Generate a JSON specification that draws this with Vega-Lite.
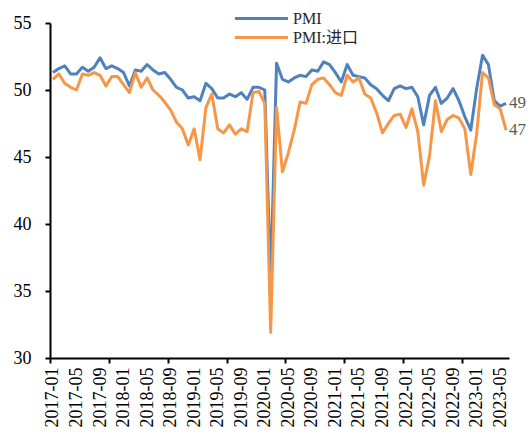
{
  "$schema": "https://vega.github.io/schema/vega-lite/v6.json",
  "width": 459,
  "height": 335,
  "autosize": {"type": "none"},
  "padding": {"left": 50, "top": 23, "right": 20, "bottom": 76},
  "background": "white",
  "config": {
    "view": {"stroke": null},
    "font": "Liberation Serif",
    "axis": {"labelFont": "Liberation Serif", "grid": false}
  },
  "data": {
    "values": [
      {"d":"2017-01","PMI":51.3,"imp":50.8},{"d":"2017-02","PMI":51.6,"imp":51.2},{"d":"2017-03","PMI":51.8,"imp":50.5},{"d":"2017-04","PMI":51.2,"imp":50.2},{"d":"2017-05","PMI":51.2,"imp":50.0},{"d":"2017-06","PMI":51.7,"imp":51.2},{"d":"2017-07","PMI":51.4,"imp":51.1},{"d":"2017-08","PMI":51.7,"imp":51.3},{"d":"2017-09","PMI":52.4,"imp":51.1},{"d":"2017-10","PMI":51.6,"imp":50.3},{"d":"2017-11","PMI":51.8,"imp":51.0},{"d":"2017-12","PMI":51.6,"imp":51.0},
      {"d":"2018-01","PMI":51.3,"imp":50.4},{"d":"2018-02","PMI":50.3,"imp":49.8},{"d":"2018-03","PMI":51.5,"imp":51.3},{"d":"2018-04","PMI":51.4,"imp":50.2},{"d":"2018-05","PMI":51.9,"imp":50.9},{"d":"2018-06","PMI":51.5,"imp":50.0},{"d":"2018-07","PMI":51.2,"imp":49.6},{"d":"2018-08","PMI":51.3,"imp":49.1},{"d":"2018-09","PMI":50.8,"imp":48.5},{"d":"2018-10","PMI":50.2,"imp":47.6},{"d":"2018-11","PMI":50.0,"imp":47.1},{"d":"2018-12","PMI":49.4,"imp":45.9},
      {"d":"2019-01","PMI":49.5,"imp":47.1},{"d":"2019-02","PMI":49.2,"imp":44.8},{"d":"2019-03","PMI":50.5,"imp":48.7},{"d":"2019-04","PMI":50.1,"imp":49.7},{"d":"2019-05","PMI":49.4,"imp":47.1},{"d":"2019-06","PMI":49.4,"imp":46.8},{"d":"2019-07","PMI":49.7,"imp":47.4},{"d":"2019-08","PMI":49.5,"imp":46.7},{"d":"2019-09","PMI":49.8,"imp":47.1},{"d":"2019-10","PMI":49.3,"imp":46.9},{"d":"2019-11","PMI":50.2,"imp":49.8},{"d":"2019-12","PMI":50.2,"imp":49.9},
      {"d":"2020-01","PMI":50.0,"imp":49.0},{"d":"2020-02","PMI":35.7,"imp":31.9},{"d":"2020-03","PMI":52.0,"imp":48.7},{"d":"2020-04","PMI":50.8,"imp":43.9},{"d":"2020-05","PMI":50.6,"imp":45.3},{"d":"2020-06","PMI":50.9,"imp":47.0},{"d":"2020-07","PMI":51.1,"imp":49.1},{"d":"2020-08","PMI":51.0,"imp":49.0},{"d":"2020-09","PMI":51.5,"imp":50.4},{"d":"2020-10","PMI":51.4,"imp":50.8},{"d":"2020-11","PMI":52.1,"imp":50.9},{"d":"2020-12","PMI":51.9,"imp":50.4},
      {"d":"2021-01","PMI":51.3,"imp":49.8},{"d":"2021-02","PMI":50.6,"imp":49.6},{"d":"2021-03","PMI":51.9,"imp":51.1},{"d":"2021-04","PMI":51.1,"imp":50.6},{"d":"2021-05","PMI":51.0,"imp":50.9},{"d":"2021-06","PMI":50.9,"imp":49.7},{"d":"2021-07","PMI":50.4,"imp":49.4},{"d":"2021-08","PMI":50.1,"imp":48.3},{"d":"2021-09","PMI":49.6,"imp":46.8},{"d":"2021-10","PMI":49.2,"imp":47.5},{"d":"2021-11","PMI":50.1,"imp":48.1},{"d":"2021-12","PMI":50.3,"imp":48.2},
      {"d":"2022-01","PMI":50.1,"imp":47.2},{"d":"2022-02","PMI":50.2,"imp":48.6},{"d":"2022-03","PMI":49.5,"imp":46.9},{"d":"2022-04","PMI":47.4,"imp":42.9},{"d":"2022-05","PMI":49.6,"imp":45.1},{"d":"2022-06","PMI":50.2,"imp":49.2},{"d":"2022-07","PMI":49.0,"imp":46.9},{"d":"2022-08","PMI":49.4,"imp":47.8},{"d":"2022-09","PMI":50.1,"imp":48.1},{"d":"2022-10","PMI":49.2,"imp":47.9},{"d":"2022-11","PMI":48.0,"imp":47.1},{"d":"2022-12","PMI":47.0,"imp":43.7},
      {"d":"2023-01","PMI":50.1,"imp":46.7},{"d":"2023-02","PMI":52.6,"imp":51.3},{"d":"2023-03","PMI":51.9,"imp":50.9},{"d":"2023-04","PMI":49.2,"imp":48.9},{"d":"2023-05","PMI":48.8,"imp":48.6},{"d":"2023-06","PMI":49.0,"imp":47.0}
    ]
  },
  "transform": [
    {"calculate": "datum.imp", "as": "PMI:进口"},
    {"fold": ["PMI", "PMI:进口"], "as": ["series", "value"]}
  ],
  "encoding": {
    "x": {
      "field": "d", "type": "ordinal",
      "scale": {"type": "point", "padding": 0.5},
      "axis": {
        "title": null,
        "values": ["2017-01","2017-05","2017-09","2017-11","2018-01","2018-05","2018-09","2019-01","2019-05","2019-07","2019-09","2020-01","2020-05","2020-09","2021-01","2021-03","2021-05","2021-09","2022-01","2022-05","2022-09","2022-11","2023-01","2023-05"],
        "labelExpr": "indexof(['2017-01','2017-05','2017-09','2018-01','2018-05','2018-09','2019-01','2019-05','2019-09','2020-01','2020-05','2020-09','2021-01','2021-05','2021-09','2022-01','2022-05','2022-09','2023-01','2023-05'], datum.value) >= 0 ? datum.label : ''",
        "labelOverlap": false,
        "labelAngle": -90,
        "labelFontSize": 18,
        "labelColor": "#000000",
        "labelPadding": 4,
        "tickOffset": -2.94,
        "labelOffset": 2.94,
        "tickSize": 5,
        "tickWidth": 2,
        "tickColor": "#000000",
        "tickOpacity": {
          "condition": {"test": "indexof(['2017-01','2017-11','2018-09','2019-07','2020-05','2021-03','2022-01','2022-11'], datum.value) >= 0", "value": 1},
          "value": 0
        },
        "domainColor": "#000000",
        "domainWidth": 2
      }
    },
    "y": {
      "field": "value", "type": "quantitative",
      "scale": {"domain": [30, 55], "zero": false, "nice": false},
      "axis": {
        "title": null,
        "values": [30, 35, 40, 45, 50, 55],
        "labelFontSize": 18,
        "labelColor": "#000000",
        "labelPadding": 14,
        "tickSize": 5,
        "tickWidth": 2,
        "tickColor": "#000000",
        "domainColor": "#000000",
        "domainWidth": 2
      }
    }
  },
  "layer": [
    {
      "mark": {"type": "line", "strokeWidth": 3, "strokeJoin": "round"},
      "encoding": {
        "color": {
          "field": "series", "type": "nominal",
          "scale": {"domain": ["PMI", "PMI:进口"], "range": ["#4F81BD", "#F79646"]},
          "legend": {
            "title": null,
            "orient": "none",
            "legendX": 183,
            "legendY": -13,
            "padding": 0,
            "symbolType": "M-1,0H7",
            "symbolSize": 176,
            "symbolStrokeWidth": 3,
            "labelFont": "Liberation Serif, Noto Sans CJK SC",
            "labelFontSize": 16,
            "labelColor": "#262626",
            "labelOffset": 43,
            "rowPadding": 2
          }
        }
      }
    },
    {
      "transform": [{"filter": "datum.d == '2023-06'"}],
      "mark": {"type": "text", "align": "left", "baseline": "middle", "dx": 3, "fontSize": 17, "color": "#595959"},
      "encoding": {
        "text": {"field": "value", "type": "quantitative", "format": ".0f"}
      }
    }
  ]
}
